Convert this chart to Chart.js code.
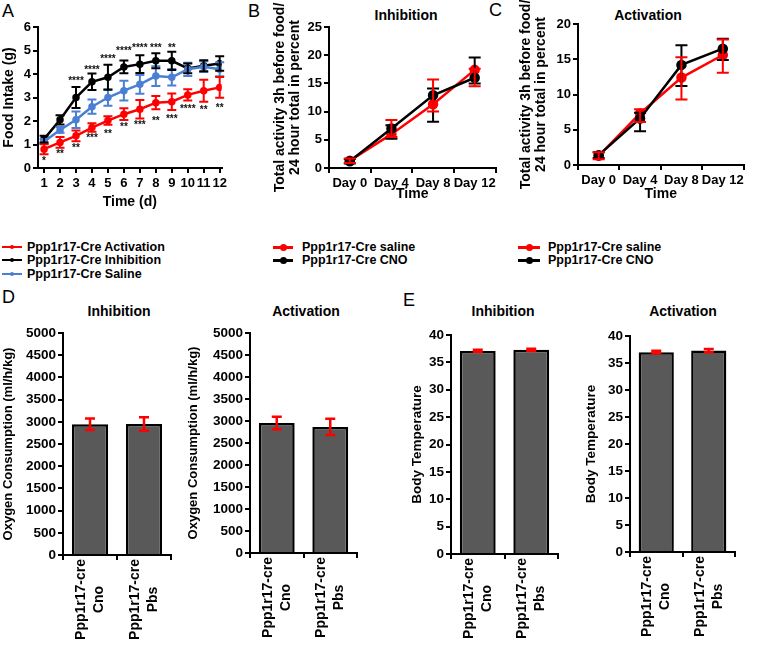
<!DOCTYPE html>
<html>
<head>
<meta charset="utf-8">
<script src="https://cdn.jsdelivr.net/npm/chart.js@4.4.0/dist/chart.umd.min.js"></script>
<style>
  body { margin: 0; background: #fff; font-family: "Liberation Sans", Arial, sans-serif; }
  #page { position: relative; width: 760px; height: 645px; overflow: hidden; }
  #page canvas { position: absolute; }
  .letter { position: absolute; font-size: 18px; line-height: 18px; color: #000; }
  .title { position: absolute; font-size: 14px; font-weight: bold; color: #000; white-space: nowrap; transform: translate(-50%, -50%); }
  .leg { position: absolute; height: 14px; line-height: 14px; font-size: 12.5px; font-weight: bold; color: #000; white-space: nowrap; }
  .leg .ln { position: absolute; left: 0; top: 6px; height: 2px; }
  .leg .dot { position: absolute; border-radius: 50%; }
</style>
</head>
<body>
<div id="page">
  <div class="letter" style="left:2px;top:2px">A</div>
  <div class="letter" style="left:248px;top:2px">B</div>
  <div class="letter" style="left:489px;top:1px">C</div>
  <div class="letter" style="left:2px;top:288px">D</div>
  <div class="letter" style="left:403px;top:291px">E</div>

  <div class="title" style="left:406px;top:15px">Inhibition</div>
  <div class="title" style="left:648px;top:15px">Activation</div>
  <div class="title" style="left:119px;top:311px">Inhibition</div>
  <div class="title" style="left:306px;top:311px">Activation</div>
  <div class="title" style="left:503px;top:311px">Inhibition</div>
  <div class="title" style="left:683px;top:311px">Activation</div>

  <!-- legend A -->
  <div class="leg" style="left:2px;top:240px;padding-left:25px"><span class="ln" style="width:20px;height:1.5px;background:#f00"></span><span class="dot" style="left:8px;top:5px;width:4px;height:4px;background:#f00"></span>Ppp1r17-Cre Activation</div>
  <div class="leg" style="left:2px;top:253px;padding-left:25px"><span class="ln" style="width:20px;height:1.5px;background:#000"></span><span class="dot" style="left:8px;top:5px;width:4px;height:4px;background:#000"></span>Ppp1r17-Cre Inhibition</div>
  <div class="leg" style="left:2px;top:267px;padding-left:25px"><span class="ln" style="width:20px;height:1.5px;background:#4a7fd4"></span><span class="dot" style="left:8px;top:5px;width:4px;height:4px;background:#4a7fd4"></span>Ppp1r17-Cre Saline</div>

  <!-- legend B -->
  <div class="leg" style="left:273px;top:240px;padding-left:29px"><span class="ln" style="width:20px;height:3px;top:5.5px;background:#f00"></span><span class="dot" style="left:6.5px;top:3.5px;width:7px;height:7px;background:#f00"></span>Ppp1r17-Cre saline</div>
  <div class="leg" style="left:273px;top:253px;padding-left:29px"><span class="ln" style="width:20px;height:3px;top:5.5px;background:#000"></span><span class="dot" style="left:6.5px;top:3.5px;width:7px;height:7px;background:#000"></span>Ppp1r17-Cre CNO</div>

  <!-- legend C -->
  <div class="leg" style="left:518px;top:240px;padding-left:30px"><span class="ln" style="width:22px;height:3px;top:5.5px;background:#f00"></span><span class="dot" style="left:7.5px;top:3.5px;width:7px;height:7px;background:#f00"></span>Ppp1r17-Cre saline</div>
  <div class="leg" style="left:518px;top:253px;padding-left:30px"><span class="ln" style="width:22px;height:3px;top:5.5px;background:#000"></span><span class="dot" style="left:7.5px;top:3.5px;width:7px;height:7px;background:#000"></span>Ppp1r17-Cre CNO</div>

  <canvas id="chartA" width="230" height="215" style="left:0;top:0"></canvas>
  <canvas id="chartB" width="237" height="215" style="left:265px;top:0"></canvas>
  <canvas id="chartC" width="235" height="212" style="left:515px;top:0"></canvas>
  <canvas id="chartD1" width="180" height="325" style="left:0;top:320px"></canvas>
  <canvas id="chartD2" width="180" height="325" style="left:185px;top:320px"></canvas>
  <canvas id="chartE1" width="160" height="325" style="left:405px;top:320px"></canvas>
  <canvas id="chartE2" width="163" height="325" style="left:582px;top:320px"></canvas>
</div>

<script>
// Panel A - food intake per day
const days = [1, 2, 3, 4, 5, 6, 7, 8, 9, 10, 11, 12];
const intakeActivation = [0.8, 1.09, 1.37, 1.72, 2.02, 2.29, 2.5, 2.78, 2.82, 3.11, 3.29, 3.43];
const intakeActivationSem = [0.21, 0.23, 0.23, 0.18, 0.18, 0.25, 0.39, 0.28, 0.35, 0.24, 0.47, 0.44];
const intakeInhibition = [1.23, 2.05, 3.0, 3.67, 3.86, 4.3, 4.42, 4.56, 4.56, 4.24, 4.35, 4.45];
const intakeInhibitionSem = [0.14, 0.2, 0.45, 0.35, 0.53, 0.27, 0.38, 0.32, 0.39, 0.21, 0.23, 0.31];
const intakeSaline = [1.13, 1.62, 2.05, 2.61, 3.0, 3.29, 3.56, 3.91, 3.86, 4.2, 4.31, 4.2];
const intakeSalineSem = [0.1, 0.12, 0.35, 0.3, 0.35, 0.42, 0.4, 0.42, 0.35, 0.28, 0.23, 0.3];
// significance marks (above inhibition / below activation)
const starsAbove = ['', '', '****', '****', '****', '****', '****', '***', '**', '', '', ''];
const starsAboveY = [0, 0, 3.79, 4.24, 4.73, 5.06, 5.2, 5.2, 5.2, 0, 0, 0];
const starsBelow = ['*', '**', '**', '***', '**', '**', '***', '**', '***', '****', '**', '**'];
const starsBelowY = [0.38, 0.68, 0.92, 1.34, 1.51, 1.81, 1.91, 2.09, 2.16, 2.58, 2.54, 2.64];

// Panels B, C - activity before food
const timeLabels = ['Day 0', 'Day 4', 'Day 8', 'Day 12'];
const inhCno = [1.2, 7.0, 12.9, 16.0];
const inhCnoLow = [0.8, 5.2, 8.2, 15.0];
const inhCnoHigh = [1.6, 7.6, 14.1, 19.6];
const inhSaline = [1.3, 6.0, 11.3, 17.4];
const inhSalineLow = [0.9, 5.5, 10.0, 14.5];
const inhSalineHigh = [1.7, 8.5, 15.7, 17.6];
const actCno = [1.4, 6.6, 14.2, 16.5];
const actCnoLow = [1.0, 4.8, 11.2, 14.9];
const actCnoHigh = [1.8, 7.4, 17.0, 17.9];
const actSaline = [1.3, 7.3, 12.4, 15.6];
const actSalineLow = [0.8, 6.1, 9.3, 13.1];
const actSalineHigh = [1.8, 7.9, 15.3, 17.8];

// Panels D, E - bars
const groupLabels = [['Ppp1r17-cre', 'Cno'], ['Ppp1r17-cre', 'Pbs']];
const o2Inhibition = [2945, 2950];
const o2InhibitionSem = [130, 150];
const o2Activation = [2955, 2865];
const o2ActivationSem = [140, 185];
const tempInhibition = [37.1, 37.3];
const tempInhibitionSem = [0.2, 0.2];
const tempActivation = [37.0, 37.3];
const tempActivationSem = [0.25, 0.3];

const RED = '#ff0000';
const BLACK = '#000000';
const BLUE = '#4a7fd4';
const FONT = '"Liberation Sans", Arial, sans-serif';

Chart.defaults.font.family = FONT;
Chart.defaults.font.weight = 'bold';
Chart.defaults.color = '#000';
Chart.defaults.animation = false;

// error bars drawn from errLow / errHigh on each dataset
const errorBars = {
  id: 'errorBars',
  afterDatasetsDraw(chart) {
    const ctx = chart.ctx;
    const ys = chart.scales.y;
    chart.data.datasets.forEach((ds, i) => {
      if (!ds.errLow) return;
      const meta = chart.getDatasetMeta(i);
      ctx.save();
      ctx.strokeStyle = ds.errColor || ds.borderColor;
      ctx.lineWidth = ds.errWidth || 2;
      meta.data.forEach((el, j) => {
        const x = el.x;
        const top = ys.getPixelForValue(ds.errHigh[j]);
        const bot = ys.getPixelForValue(ds.errLow[j]);
        const c = (ds.capW || 10) / 2;
        ctx.beginPath();
        ctx.moveTo(x, top); ctx.lineTo(x, bot);
        ctx.moveTo(x - c, top); ctx.lineTo(x + c, top);
        ctx.moveTo(x - c, bot); ctx.lineTo(x + c, bot);
        ctx.stroke();
      });
      ctx.restore();
    });
  }
};

// asterisks for panel A
const starMarks = {
  id: 'starMarks',
  afterDatasetsDraw(chart) {
    const ctx = chart.ctx, xs = chart.scales.x, ys = chart.scales.y;
    ctx.save();
    ctx.font = 'bold 10px ' + FONT;
    ctx.fillStyle = '#111';
    ctx.textAlign = 'center';
    ctx.textBaseline = 'middle';
    days.forEach((d, i) => {
      const x = xs.getPixelForValue(d);
      if (starsAbove[i]) ctx.fillText(starsAbove[i], x, ys.getPixelForValue(starsAboveY[i]) + 2);
      if (starsBelow[i]) ctx.fillText(starsBelow[i], x, ys.getPixelForValue(starsBelowY[i]) + 2);
    });
    ctx.restore();
  }
};

// vertical two-line group labels under bars
const rotLabels = {
  id: 'rotLabels',
  afterDraw(chart) {
    const ctx = chart.ctx, xs = chart.scales.x;
    ctx.save();
    ctx.font = 'bold 14px ' + FONT;
    ctx.fillStyle = '#000';
    ctx.textAlign = 'center';
    ctx.textBaseline = 'middle';
    chart.data.labels.forEach((lines, i) => {
      const x = xs.getPixelForTick(i);
      const w = Math.max(...lines.map(l => ctx.measureText(l).width));
      ctx.save();
      ctx.translate(x, xs.top + 4 + w / 2);
      ctx.rotate(-Math.PI / 2);
      lines.forEach((l, k) => ctx.fillText(l, 0, (k - (lines.length - 1) / 2) * 18));
      ctx.restore();
    });
    ctx.restore();
  }
};

const axisGrid = { drawOnChartArea: false, drawTicks: true, tickLength: 5, color: '#000', lineWidth: 2 };
const axisBorder = { color: '#000', width: 2 };

function yAxis(min, max, step, title, width, titlePad, titleSize, tickSize) {
  return {
    min: min, max: max,
    ticks: { stepSize: step, color: '#000', font: { size: tickSize, weight: 'bold' }, padding: 2, callback: v => String(v) },
    grid: axisGrid,
    border: axisBorder,
    title: { display: true, text: title, color: '#000', font: { size: titleSize, weight: 'bold', lineHeight: 1.1 }, padding: { top: titlePad, bottom: 0 } },
    afterFit: s => { s.width = width; }
  };
}

function lineSet(label, vals, low, high, color, radius, width, cap) {
  return {
    label: label,
    data: vals,
    borderColor: color,
    backgroundColor: color,
    pointBackgroundColor: color,
    pointBorderColor: color,
    pointRadius: radius,
    borderWidth: width,
    tension: 0,
    fill: false,
    errLow: low,
    errHigh: high,
    errWidth: 2,
    capW: cap
  };
}

function xy(vals) {
  return days.map((d, i) => ({ x: d, y: vals[i] }));
}
function minus(v, e) { return v.map((a, i) => a - e[i]); }
function plus(v, e) { return v.map((a, i) => a + e[i]); }

const basePlugins = { legend: { display: false }, tooltip: { enabled: false } };

// Panel A
new Chart(document.getElementById('chartA'), {
  type: 'line',
  data: {
    datasets: [
      lineSet('Ppp1r17-Cre Saline', xy(intakeSaline), minus(intakeSaline, intakeSalineSem), plus(intakeSaline, intakeSalineSem), BLUE, 2.5, 2.5, 9),
      lineSet('Ppp1r17-Cre Activation', xy(intakeActivation), minus(intakeActivation, intakeActivationSem), plus(intakeActivation, intakeActivationSem), RED, 2.5, 2.5, 9),
      lineSet('Ppp1r17-Cre Inhibition', xy(intakeInhibition), minus(intakeInhibition, intakeInhibitionSem), plus(intakeInhibition, intakeInhibitionSem), BLACK, 2.5, 2.5, 9)
    ]
  },
  options: {
    responsive: false,
    layout: { padding: { top: 27, right: 8, left: 0, bottom: 0 } },
    plugins: basePlugins,
    scales: {
      x: {
        type: 'linear', min: 0.62, max: 12.12,
        afterBuildTicks: s => { s.ticks = days.map(v => ({ value: v })); },
        ticks: { color: '#000', font: { size: 13, weight: 'bold' }, padding: 3, maxRotation: 0, autoSkip: false },
        grid: axisGrid,
        border: axisBorder,
        title: { display: true, text: 'Time (d)', color: '#000', font: { size: 14, weight: 'bold' }, padding: { top: 0, bottom: 4 } },
        afterFit: s => { s.height = 47; }
      },
      y: yAxis(0, 6, 1, 'Food Intake (g)', 38, 1, 14, 13)
    }
  },
  plugins: [errorBars, starMarks]
});

function activityChart(id, cno, cnoLow, cnoHigh, sal, salLow, salHigh, yMax, top, yWidth, titlePad, xPad) {
  new Chart(document.getElementById(id), {
    type: 'line',
    data: {
      labels: timeLabels,
      datasets: [
        lineSet('Ppp1r17-Cre CNO', cno, cnoLow, cnoHigh, BLACK, 4, 2.5, 12),
        lineSet('Ppp1r17-Cre saline', sal, salLow, salHigh, RED, 4, 2.5, 12)
      ]
    },
    options: {
      responsive: false,
      layout: { padding: { top: top, right: 5, left: 0, bottom: 0 } },
      plugins: basePlugins,
      scales: {
        x: {
          offset: true,
          ticks: { color: '#000', font: { size: 13, weight: 'bold' }, padding: 3, maxRotation: 0, autoSkip: false },
          grid: Object.assign({}, axisGrid, { offset: true }),
          border: axisBorder,
          title: { display: true, text: 'Time', color: '#000', font: { size: 14, weight: 'bold' }, padding: { top: 0, bottom: xPad } },
          afterFit: s => { s.height = 47; }
        },
        y: yAxis(0, yMax, 5, ['Total activity 3h before food/', '24 hour total in percent'], yWidth, titlePad, 14, 13)
      }
    },
    plugins: [errorBars]
  });
}

activityChart('chartB', inhCno, inhCnoLow, inhCnoHigh, inhSaline, inhSalineLow, inhSalineHigh, 25, 27, 64, 7, 12);
activityChart('chartC', actCno, actCnoLow, actCnoHigh, actSaline, actSalineLow, actSalineHigh, 20, 24, 63, 3, 9);

function barChart(id, vals, sem, yMax, step, title, top, right, yWidth, titlePad, titleSize, xHeight) {
  new Chart(document.getElementById(id), {
    type: 'bar',
    data: {
      labels: groupLabels,
      datasets: [{
        data: vals,
        backgroundColor: '#595959',
        borderColor: '#000',
        borderWidth: 2.5,
        barPercentage: 0.67,
        categoryPercentage: 1,
        errLow: minus(vals, sem),
        errHigh: plus(vals, sem),
        errColor: RED,
        errWidth: 2.5,
        capW: 10
      }]
    },
    options: {
      responsive: false,
      layout: { padding: { top: top, right: right, left: 0, bottom: 0 } },
      plugins: basePlugins,
      scales: {
        x: {
          ticks: { display: false },
          grid: Object.assign({}, axisGrid, { offset: true }),
          border: axisBorder,
          afterFit: s => { s.height = xHeight; }
        },
        y: yAxis(0, yMax, step, title, yWidth, titlePad, titleSize, 13.5)
      }
    },
    plugins: [errorBars, rotLabels]
  });
}

barChart('chartD1', o2Inhibition, o2InhibitionSem, 5000, 500, 'Oxygen Consumption (ml/h/kg)', 13, 9, 63, 1, 13, 90);
barChart('chartD2', o2Activation, o2ActivationSem, 5000, 500, 'Oxygen Consumption (ml/h/kg)', 13, 8, 65, 1, 13, 92);
barChart('chartE1', tempInhibition, tempInhibitionSem, 40, 5, 'Body Temperature', 15, 7, 46, 5, 13.5, 91);
barChart('chartE2', tempActivation, tempActivationSem, 40, 5, 'Body Temperature', 16, 10, 48, 2, 13.5, 93);
</script>
</body>
</html>
